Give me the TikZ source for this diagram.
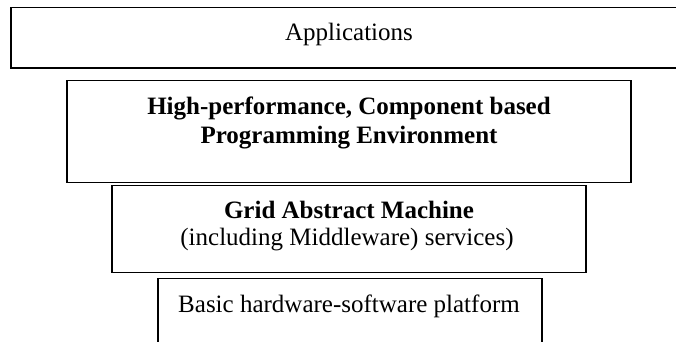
\documentclass[tikz,border=0pt]{standalone}
\usepackage{fontspec}
\setmainfont{Liberation Serif}
\begin{document}
\begin{tikzpicture}[x=1pt,y=-1pt,
  layer/.style={draw=black, line width=1.4pt, fill=white, inner sep=0pt, outer sep=0pt, rectangle},
  caption/.style={anchor=base, inner sep=0pt, font=\fontsize{25}{29}\selectfont},
  boldcaption/.style={caption, font=\fontsize{25}{29}\selectfont\bfseries}]
  \useasboundingbox (0,0) rectangle (676,341);
  \clip (0,0) rectangle (676,341);

  % stacked layers, top to bottom
  \node[layer, minimum width=677pt, minimum height=60.5pt] (apps) at (349.5,37.75) {};
  \node[layer, minimum width=564pt, minimum height=102pt] (env) at (349,131.5) {};
  \node[layer, minimum width=474pt, minimum height=87pt] (gam) at (349,229) {};
  \node[layer, minimum width=384pt, minimum height=81.5pt] (base) at (350,319.25) {};

  % layer captions
  \node[caption] (appsT) at (349,40.7) {Applications};
  \node[boldcaption] (envT1) at (349,114) {High-performance, Component based};
  \node[boldcaption] (envT2) at (349,143) {Programming Environment};
  \node[boldcaption] (gamT1) at (349,218) {Grid Abstract Machine};
  \node[caption] (gamT2) at (347,245) {(including Middleware) services)};
  \node[caption] (baseT) at (349,312) {Basic hardware-software platform};
\end{tikzpicture}
\end{document}
